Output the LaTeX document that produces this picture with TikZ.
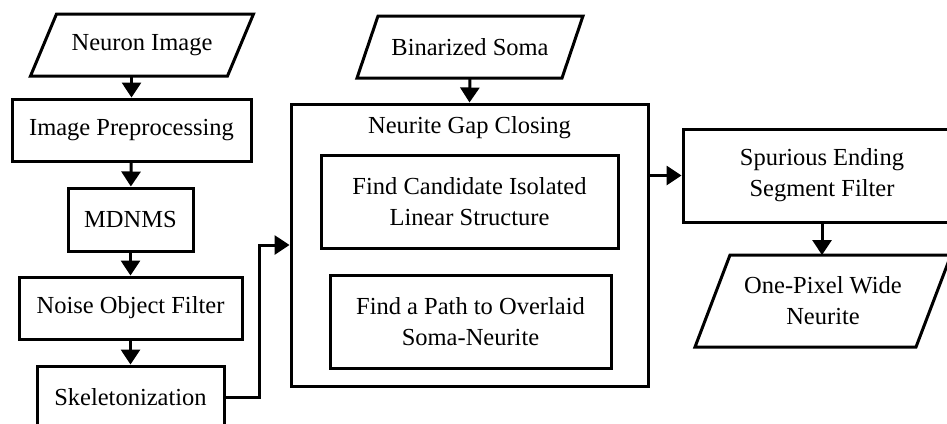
\documentclass[tikz,border=0pt]{standalone}
\usepackage{fontspec}
\setmainfont{Liberation Serif}
\usetikzlibrary{arrows.meta,calc}

\tikzset{
  box/.style={draw, line width=3pt, inner sep=0pt, align=center,
              minimum width=#1},
  box/.default=100pt,
  iolabel/.style={inner sep=0pt, align=center},
  outline/.style={line width=3pt, line join=miter},
  arr/.style={line width=3pt, -{Triangle[length=15pt,width=19pt]}},
}

% parallelogram outline around a named label node:
% #1 node, #2 half width, #3 half height, #4 half slant
\newcommand{\iobox}[4]{%
  \draw[outline] ($(#1.center)+(-#2+#4,-#3)$) -- ($(#1.center)+(#2+#4,-#3)$)
    -- ($(#1.center)+(#2-#4,#3)$) -- ($(#1.center)+(-#2-#4,#3)$) -- cycle;}

\begin{document}
\begin{tikzpicture}[x=1pt,y=-1pt,font=\fontsize{24.5}{31}\selectfont]
\useasboundingbox (0,0) rectangle (947,423);
\clip (0,0) rectangle (947,423);

% left column
\node[iolabel] (nimg) at (142,45) {Neuron Image};
\iobox{nimg}{98.5}{31}{13}
\node[box=239pt, minimum height=62pt] (prep) at (131.5,130) {Image Preprocessing};
\node[box=125pt, minimum height=63pt] (mdn) at (130.5,219.5) {MDNMS};
\node[box=223pt, minimum height=62pt] (noise) at (130.5,308) {Noise Object Filter};
\node[box=187pt, minimum height=62pt] (skel) at (130.5,397) {Skeletonization};

% gap closing block
\node[iolabel] (bsoma) at (470,47) {Binarized Soma};
\iobox{bsoma}{102.5}{31}{10.5}
\node[box=357pt, minimum height=282pt] (gap) at (469.5,245) {};
\node[iolabel] (gaplbl) at (469.5,128) {Neurite Gap Closing};
\node[box=297pt, minimum height=93pt] (cand) at (469.5,201.5)
  {Find Candidate Isolated\\Linear Structure};
\node[box=281pt, minimum height=93pt] (path) at (470.5,321.5)
  {Find a Path to Overlaid\\Soma-Neurite};

% right column
\node[box=278pt, minimum height=93pt] (spur) at (822,175.5)
  {Spurious Ending\\Segment Filter};
\node[iolabel] (onepx) at (823,301) {One-Pixel Wide\\Neurite};
\iobox{onepx}{110.5}{46}{17.5}

% connectors
\draw[arr] (prep.north |- 0,76) -- (prep.north);
\draw[arr] (prep) -- (mdn);
\draw[arr] (mdn) -- (noise);
\draw[arr] (noise) -- (skel);
\draw[arr] (skel.east) -- ++(34,0) |- (gap.west);
\draw[arr] (bsoma.center |- 0,78) -- (gap.north);
\draw[arr] (spur.west -| gap.east) -- (spur.west);
\draw[arr] (spur.south) -- (spur.south |- 0,255);
\end{tikzpicture}
\end{document}
